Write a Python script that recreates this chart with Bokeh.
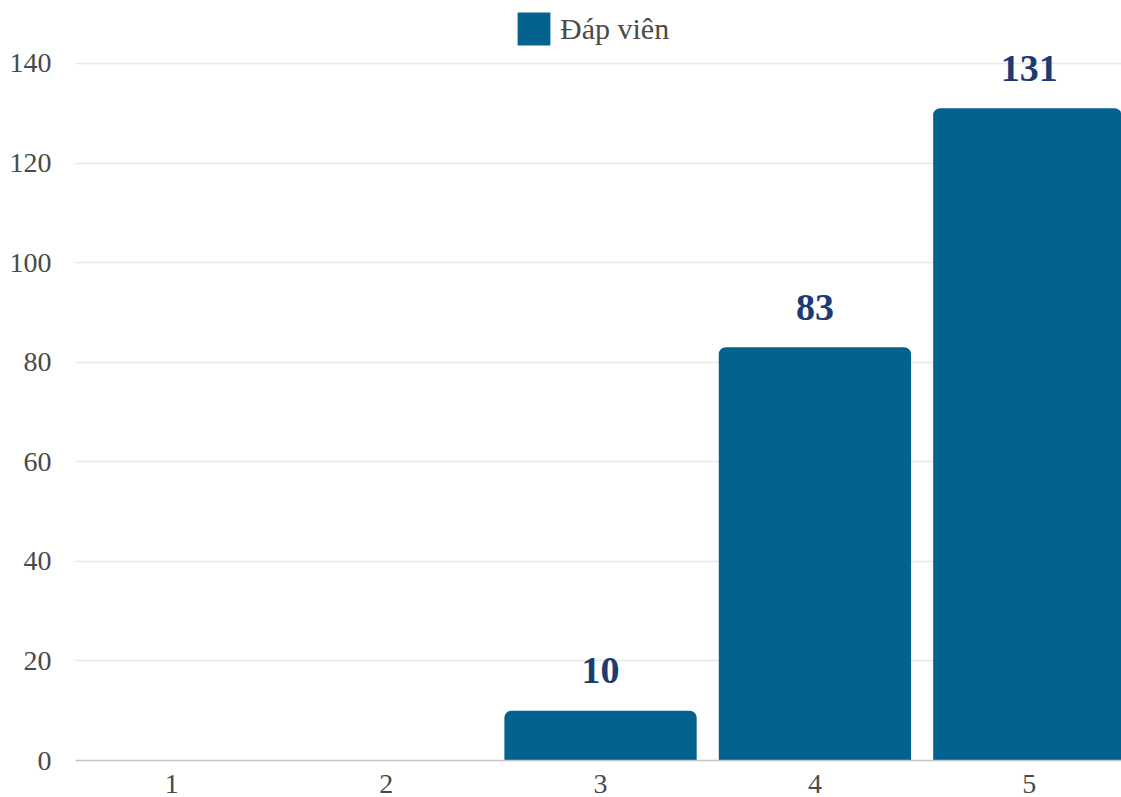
from bokeh.plotting import figure
from bokeh.models import ColumnDataSource, Legend, LegendItem, FixedTicker, Range1d
from bokeh.core.properties import value
from bokeh.embed import file_html
from bokeh.resources import INLINE

# Ratings 1..5 and the number of respondents for each
categories = [1, 2, 3, 4, 5]
counts = [0, 0, 10, 83, 131]
series_name = "Đáp viên"
y_ticks = [0, 20, 40, 60, 80, 100, 120, 140]

BAR = "#04628f"
LABEL = "#1c3b73"
TICK = "#4a4a4a"
FONT = "Liberation Serif"

src = ColumnDataSource(dict(x=categories, y=counts))
lab = ColumnDataSource(dict(
    x=[c for c, v in zip(categories, counts) if v > 0],
    y=[v for v in counts if v > 0],
    t=[str(v) for v in counts if v > 0],
))

# frame runs to the top edge so the legend and value labels sit inside it;
# the y range is stretched so that 140 lands where the top gridline belongs
p = figure(width=1121, height=797, output_backend="svg", toolbar_location=None,
           x_range=Range1d(0.551, 5.43), y_range=Range1d(0, 152.65),
           min_border_left=75, min_border_right=0, min_border_top=0, min_border_bottom=37)
p.outline_line_color = None
p.background_fill_color = "white"

bars = p.vbar(x="x", top="y", width=0.897, source=src, fill_color=BAR, line_color=None,
              border_radius=(7, 7, 0, 0))

p.text(x="x", y="y", text="t", source=lab, text_font=value(FONT), text_font_style="bold",
       text_font_size="38px", text_color=LABEL, text_align="center",
       text_baseline="middle", y_offset=-40)

# axes
p.yaxis.ticker = FixedTicker(ticks=y_ticks)
p.xaxis.ticker = FixedTicker(ticks=categories)
for ax in (p.xaxis[0], p.yaxis[0]):
    ax.major_tick_line_color = None
    ax.minor_tick_line_color = None
    ax.major_label_text_font = FONT
    ax.major_label_text_font_size = "28px"
    ax.major_label_text_color = TICK
p.yaxis.axis_line_color = None
p.yaxis.major_label_standoff = 18
p.xaxis.axis_line_color = "#c4c4c4"
p.xaxis.axis_line_width = 1.5
p.xaxis.major_label_standoff = 8

p.xgrid.grid_line_color = None
p.ygrid.grid_line_color = "#e8e8e8"
p.ygrid.grid_line_width = 1.5

legend = Legend(items=[LegendItem(label=series_name, renderers=[bars])],
                location=(438, 711), orientation="horizontal",
                glyph_width=41, glyph_height=41, label_height=41,
                label_standoff=6, padding=0, margin=0, spacing=0,
                border_line_color=None, background_fill_alpha=0,
                label_text_font=FONT, label_text_font_size="30px",
                label_text_color=TICK, label_text_baseline="middle")
p.add_layout(legend, "center")

open("out.html", "w").write(file_html(p, INLINE))
